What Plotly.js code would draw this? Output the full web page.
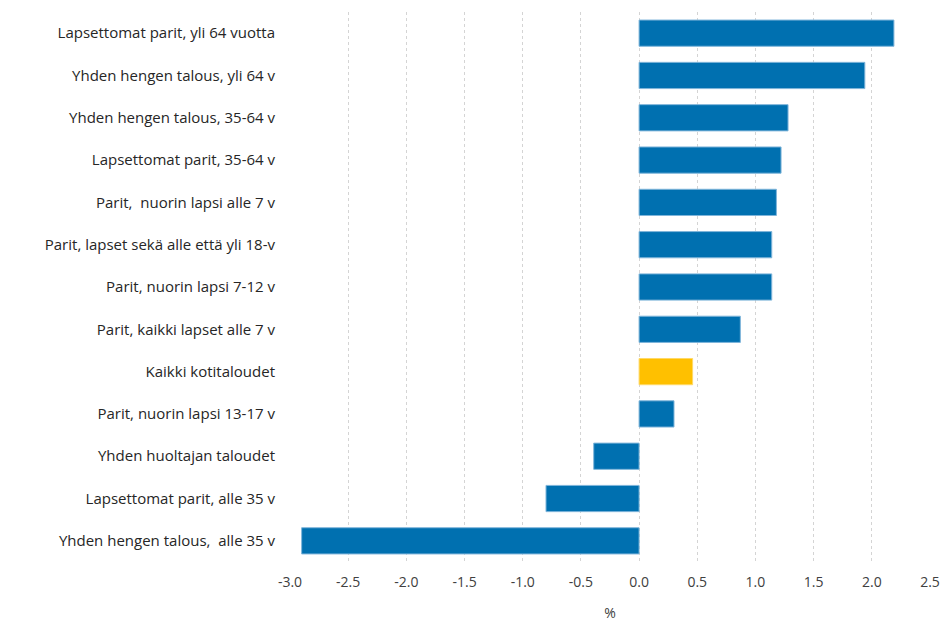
<!DOCTYPE html>
<html>
<head>
<meta charset="utf-8">
<script src="https://cdn.plot.ly/plotly-3.0.1.min.js"></script>
<style>html,body{margin:0;padding:0;background:#fff;}#chart{width:944px;height:622px;}</style>
</head>
<body>
<div id="chart"></div>
<script>
const categories = [
  "Lapsettomat parit, yli 64 vuotta",
  "Yhden hengen talous, yli 64 v",
  "Yhden hengen talous, 35-64 v",
  "Lapsettomat parit, 35-64 v",
  "Parit,  nuorin lapsi alle 7 v",
  "Parit, lapset sekä alle että yli 18-v",
  "Parit, nuorin lapsi 7-12 v",
  "Parit, kaikki lapset alle 7 v",
  "Kaikki kotitaloudet",
  "Parit, nuorin lapsi 13-17 v",
  "Yhden huoltajan taloudet",
  "Lapsettomat parit, alle 35 v",
  "Yhden hengen talous,  alle 35 v"
];
const values = [2.19, 1.94, 1.28, 1.22, 1.18, 1.14, 1.14, 0.87, 0.46, 0.30, -0.39, -0.80, -2.90];
const highlight = "Kaikki kotitaloudet";
const tickValues = [-3.0, -2.5, -2.0, -1.5, -1.0, -0.5, 0.0, 0.5, 1.0, 1.5, 2.0, 2.5];
const tickLabels = ["-3.0", "-2.5", "-2.0", "-1.5", "-1.0", "-0.5", "0.0", "0.5", "1.0", "1.5", "2.0", "2.5"];

const colors = categories.map(c => c === highlight ? "#FFC000" : "#0070B0");
const lineColors = categories.map(c => c === highlight ? "#FFD966" : "#7FB5DA");

const trace = {
  type: "bar",
  orientation: "h",
  y: categories,
  x: values,
  marker: {color: colors, line: {color: lineColors, width: 1}},
  hoverinfo: "x+y"
};

const font = {family: "'Open Sans', 'Noto Sans', sans-serif", size: 13, color: "#404040"};

const layout = {
  width: 944, height: 622,
  margin: {l: 290, r: 14, t: 12, b: 60},
  paper_bgcolor: "#fff", plot_bgcolor: "#fff",
  font: font,
  showlegend: false,
  bargap: 0.38,
  xaxis: {
    range: [-3.0, 2.5],
    tickvals: tickValues,
    ticktext: tickLabels,
    showgrid: true,
    gridcolor: "#d4d4d4",
    griddash: "dot",
    gridwidth: 1,
    zeroline: false,
    showline: false,
    ticks: "",
    ticklabelstandoff: 10,
    tickfont: {size: 14, color: "#404040"},
    title: {text: "%", font: {size: 14, color: "#404040"}, standoff: 20}
  },
  yaxis: {
    autorange: "reversed",
    categoryorder: "array",
    categoryarray: categories,
    showgrid: false,
    zeroline: false,
    showline: false,
    ticks: "",
    ticklabelstandoff: 14,
    tickfont: {size: 15, color: "#262626"}
  }
};

Plotly.newPlot("chart", [trace], layout, {displayModeBar: false, responsive: false});
</script>
</body>
</html>
